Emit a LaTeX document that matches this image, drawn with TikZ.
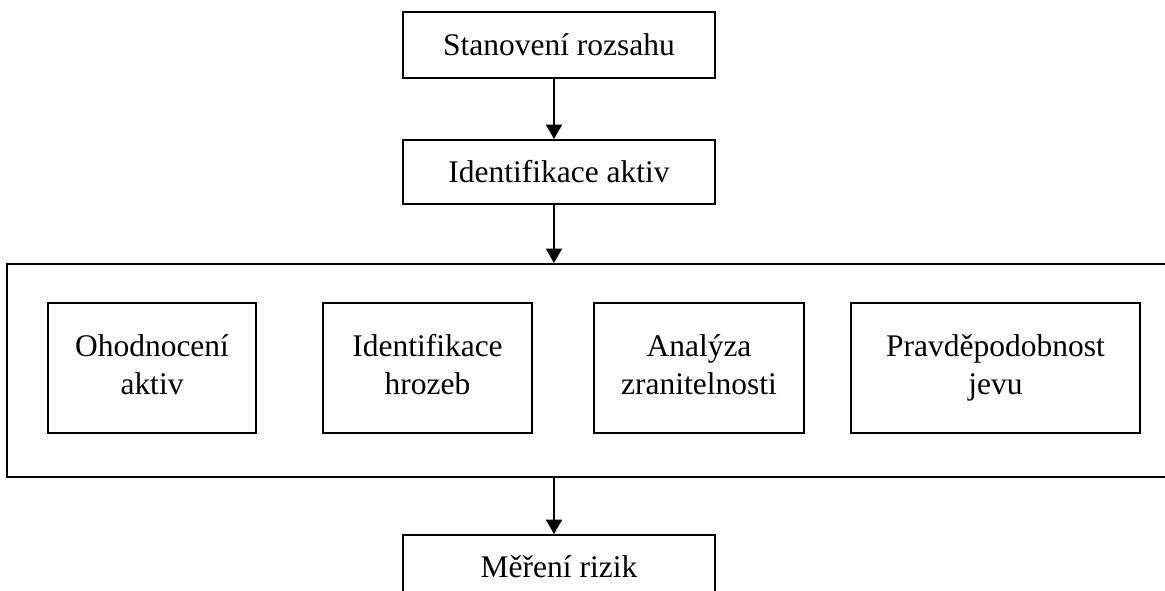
\documentclass[tikz,border=0pt]{standalone}
\usepackage{fontspec}
\setmainfont{Liberation Serif}
\usetikzlibrary{arrows.meta,positioning}

\begin{document}
\begin{tikzpicture}[
    box/.style={draw,line width=1.4pt,inner sep=0pt,align=center,
        font=\fontsize{22.4}{27}\selectfont},
    arr/.style={line width=1.4pt,-{Triangle[width=0.4cm,length=0.36cm]}}]
    \useasboundingbox (0,0) rectangle (29.125,14.75);
    \node[box,minimum width=7.8cm,minimum height=1.65cm] (rozsah) at (13.975,13.625) {Stanovení rozsahu};
    \node[box,minimum width=7.8cm,minimum height=1.6cm] (aktiva) at (13.975,10.45) {Identifikace aktiv};
    %%
    \node[box,minimum width=29.45cm,minimum height=5.325cm] (analyza) at (14.9,5.4875) {};
    \node[box,minimum width=5.2cm,minimum height=3.25cm] (ohodnoceni) at (3.8,5.55) {\strut Ohodnocení\\aktiv\strut};
    \node[box,minimum width=5.225cm,minimum height=3.25cm] (hrozby) at (10.6875,5.55) {\strut Identifikace\\hrozeb\strut};
    \node[box,minimum width=5.25cm,minimum height=3.25cm] (zranitelnost) at (17.475,5.55) {\strut Analýza\\zranitelnosti\strut};
    \node[box,minimum width=7.225cm,minimum height=3.25cm] (jev) at (24.8875,5.55) {\strut Pravděpodobnost\\jevu\strut};
    %%
    \node[box,minimum width=7.8cm,minimum height=1.6cm] (mereni) at (13.975,0.575) {Měření rizik};
    %%
    \draw[arr] ([xshift=-0.125cm]rozsah.south) -- ([xshift=-0.125cm]aktiva.north);
    \draw[arr] ([xshift=-0.125cm]aktiva.south) -- ([xshift=-0.125cm]aktiva.south |- analyza.north);
    \draw[arr] ([xshift=-0.125cm]mereni.north |- analyza.south) -- ([xshift=-0.125cm]mereni.north);
\end{tikzpicture}
\end{document}
